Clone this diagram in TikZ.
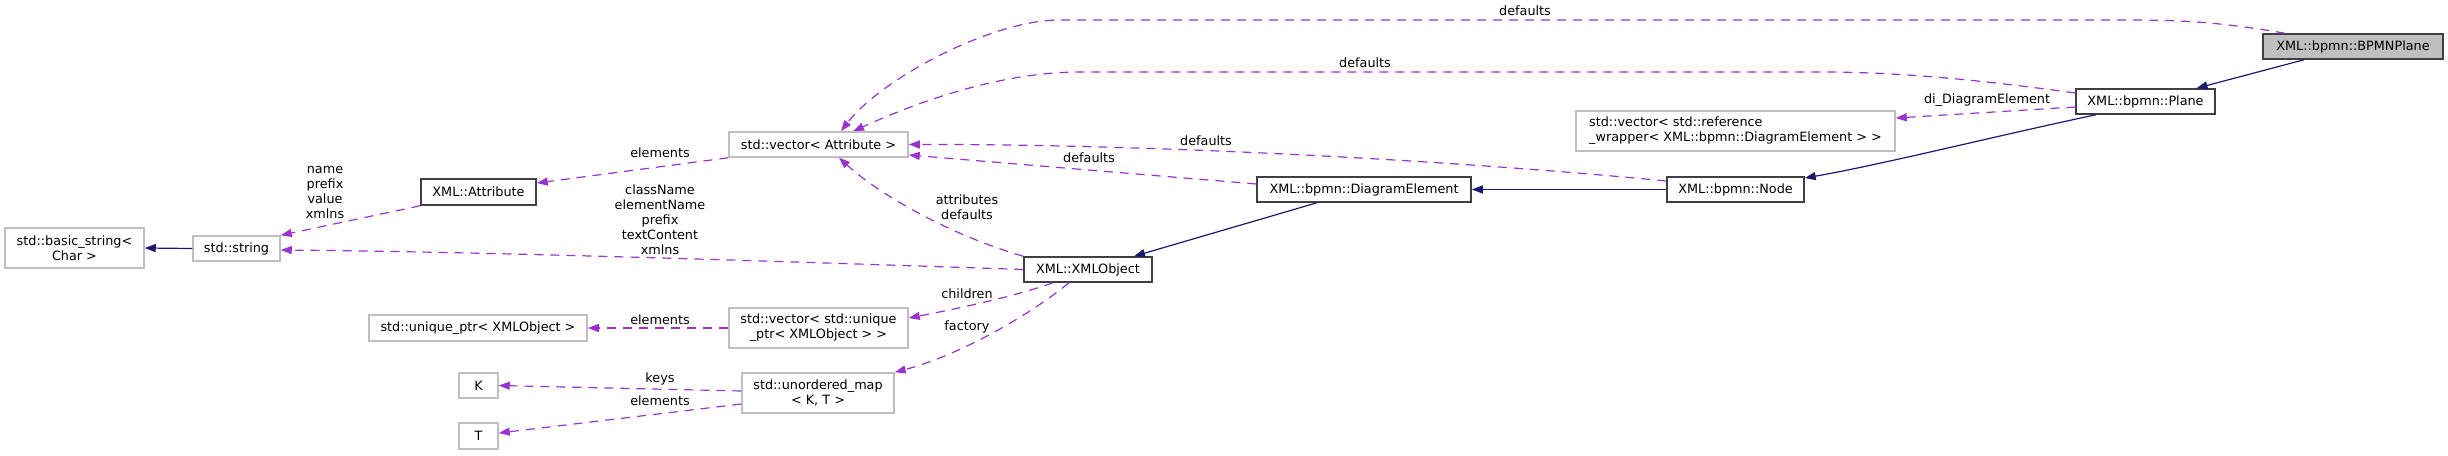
\documentclass[tikz,border=0pt]{standalone}
\usepackage{fontspec}
\setmainfont{DejaVu Sans}
\usetikzlibrary{arrows.meta}
\definecolor{depc}{HTML}{9A32CD}
\definecolor{inhc}{HTML}{191970}
\definecolor{greyb}{HTML}{BFBFBF}
\definecolor{docb}{HTML}{404040}
\tikzset{
  box/.style={draw=docb, line width=1.5pt, rectangle, inner sep=0pt, minimum height=25pt, align=center, font=\fontsize{12.8}{15}\selectfont},
  extbox/.style={box, draw=greyb},
  dep/.style={draw=depc, line width=1.2pt, dash pattern=on 9pt off 7pt, -{Triangle[length=11pt,width=8pt,fill=depc]}},
  inh/.style={draw=inhc, line width=1.2pt, -{Triangle[length=11pt,width=8pt,fill=inhc]}},
  lbl/.style={inner sep=0pt, align=center, font=\fontsize{12.8}{15}\selectfont}
}
\begin{document}
\begin{tikzpicture}[x=1pt,y=-1pt]
\useasboundingbox (0,0) rectangle (2448,455);
% nodes
\node[box, fill=greyb, minimum width=180pt] (bpmnplane) at (2353,46.5) {XML::bpmn::BPMNPlane};
\node[box, minimum width=139pt] (plane) at (2145.5,101.5) {XML::bpmn::Plane};
\node[extbox, minimum width=319pt, minimum height=40pt, align=left] (refwrap) at (1735.5,131) {std::vector< std::reference\\\_wrapper< XML::bpmn::DiagramElement > >};
\node[box, minimum width=137pt] (node) at (1735.5,189.5) {XML::bpmn::Node};
\node[box, minimum width=214pt] (diagel) at (1364,189.5) {XML::bpmn::DiagramElement};
\node[box, minimum width=128pt] (xmlobj) at (1088,269.5) {XML::XMLObject};
\node[extbox, minimum width=179pt] (vecattr) at (818.5,144.5) {std::vector< Attribute >};
\node[extbox, minimum width=179pt, minimum height=40pt] (vecuptr) at (818.5,328) {std::vector< std::unique\\\_ptr< XMLObject > >};
\node[extbox, minimum width=152pt, minimum height=40pt] (umap) at (818,393) {std::unordered\_map\\< K, T >};
\node[box, minimum width=115pt, minimum height=26pt] (attribute) at (478.5,192) {XML::Attribute};
\node[extbox, minimum width=87pt] (string) at (236.5,248.5) {std::string};
\node[extbox, minimum width=139pt, minimum height=40pt] (basicstr) at (74.5,248) {std::basic\_string<\\Char >};
\node[extbox, minimum width=218pt, minimum height=26pt] (uptr) at (478,328) {std::unique\_ptr< XMLObject >};
\node[extbox, minimum width=39pt] (K) at (478.5,385.5) {K};
\node[extbox, minimum width=39pt, minimum height=26pt] (T) at (478.5,436) {T};
% inheritance
\draw[inh] ([xshift=-49pt]bpmnplane.south) -- ([xshift=51pt]plane.north);
\draw[inh] ([xshift=-49.5pt]plane.south) .. controls (2000,135) and (1880,165) .. ([yshift=11.5pt]node.east);
\draw[inh] (node.west) -- (diagel.east);
\draw[inh] ([xshift=-47pt]diagel.south) -- ([xshift=46pt]xmlobj.north);
\draw[inh] (string.west) -- (basicstr.east);
% dependencies
\draw[dep] ([xshift=-68pt]bpmnplane.north) .. controls (2220,22) and (2180,20) .. (2130,20) -- (1060,20) .. controls (990,20) and (880,80) .. ([xshift=22.5pt]vecattr.north);
\node[lbl] (l1) at (1525,11) {defaults};
\draw[dep] ([yshift=8.5pt]plane.west) .. controls (1980,80) and (1900,72) .. (1820,72) -- (1080,72) .. controls (990,72) and (900,110) .. ([xshift=34.5pt]vecattr.north);
\node[lbl] (l2) at (1365,63) {defaults};
\draw[dep] ([yshift=-5.5pt]plane.west) -- ([yshift=13pt]refwrap.east);
\node[lbl] (l3) at (1987,100) {di\_DiagramElement};
\draw[dep] ([yshift=8.5pt]node.west) .. controls (1450,160) and (1150,144) .. (vecattr.east);
\node[lbl] (l4) at (1206,141) {defaults};
\draw[dep] ([yshift=5.5pt]diagel.west) -- ([yshift=-10.5pt]vecattr.east);
\node[lbl] (l5) at (1089,158) {defaults};
\draw[dep] (xmlobj.north west) .. controls (950,235) and (880,195) .. ([xshift=20.5pt]vecattr.south);
\node[lbl] (l6) at (967,207.5) {attributes\\defaults};
\draw[dep] (xmlobj.west) .. controls (800,262) and (500,252) .. ([yshift=-1.5pt]string.east);
\node[lbl] (l7) at (660,220) {className\\elementName\\prefix\\textContent\\xmlns};
\draw[dep] ([xshift=-35pt]xmlobj.south) .. controls (1010,298) and (950,310) .. ([yshift=10pt]vecuptr.east);
\node[lbl] (l8) at (967,294) {children};
\draw[dep] ([xshift=-19pt]xmlobj.south) .. controls (1030,315) and (960,355) .. (umap.north east);
\node[lbl] (l9) at (967,327) {factory};
\draw[dep] (vecuptr.west) -- (uptr.east);
\node[lbl] (l10) at (660,320) {elements};
\draw[dep] ([yshift=2pt]umap.west) -- (K.east);
\node[lbl] (l11) at (660,379) {keys};
\draw[dep] ([yshift=-11pt]umap.west) -- ([yshift=3pt]T.east);
\node[lbl] (l12) at (660,401) {elements};
\draw[dep] (vecattr.south west) -- ([yshift=9pt]attribute.east);
\node[lbl] (l13) at (660,153) {elements};
\draw[dep] (attribute.south west) -- (string.north east);
\node[lbl] (l14) at (325,193) {name\\prefix\\value\\xmlns};
\end{tikzpicture}
\end{document}
